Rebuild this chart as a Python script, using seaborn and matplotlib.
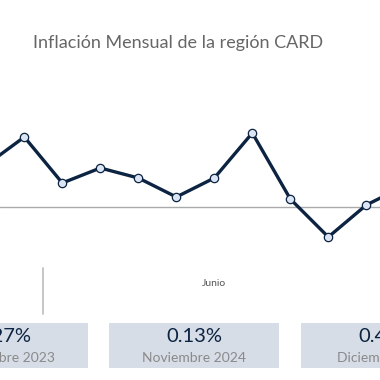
import matplotlib
matplotlib.use("Agg")
import matplotlib.pyplot as plt
import seaborn as sns
import pandas as pd
from matplotlib.patches import Rectangle

# monthly inflation (%), the view is a window of a longer series
months = ["Nov", "Dic", "Ene", "Feb", "Mar", "Abr", "Jun", "Jul", "Ago", "Sep", "Oct", "Nov2"]
inflation = [0.42, 0.70, 0.24, 0.39, 0.29, 0.10, 0.29, 0.74, 0.08, -0.30, 0.02, 0.21]
axis_label = "Junio"
axis_label_idx = 6

card_values = ["0.27%", "0.13%", "0.45%"]
card_labels = ["Noviembre 2023", "Noviembre 2024", "Diciembre 2024"]

title = "Inflación Mensual de la región CARD"

navy = "#0c2341"
marker_face = "#dbe5f3"
card_bg = "#d6dde6"

sns.set_theme(style="white")
plt.rcParams["font.family"] = ["Lato", "DejaVu Sans"]

fig = plt.figure(figsize=(3.8, 3.8), dpi=100)

# line chart, scaled so that only the window is visible
ax = fig.add_axes([0, 0, 1, 1])
df = pd.DataFrame({"idx": range(len(inflation)), "val": inflation})
ax.axhline(0, color="#aaaaaa", lw=1.0, zorder=1)
sns.lineplot(data=df, x="idx", y="val", ax=ax, color=navy, lw=2.4,
             marker="o", markersize=6, markerfacecolor=marker_face,
             markeredgecolor=navy, markeredgewidth=0.9, zorder=3)
ax.set_xlim(0.36, 10.36)
ax.set_ylim(-1.73, 2.07)
ax.axis("off")

# overlay in pixel space for the labels and cards
ov = fig.add_axes([0, 0, 1, 1], zorder=5)
ov.set_xlim(0, 380)
ov.set_ylim(380, 0)
ov.axis("off")
ov.patch.set_alpha(0)

ov.text(178, 43, title, ha="center", va="center", fontsize=13, color="#666666")

# month label and year separator, placed via the data axis
ax.text(axis_label_idx, -0.77, axis_label, ha="center", va="center",
        fontsize=7.5, color="#555555")
ax.plot([1.5, 1.5], [-0.61, -1.07], color="#bbbbbb", lw=1.2)

card_centers = [3, 194, 386]
for cx, v, lab in zip(card_centers, card_values, card_labels):
    ov.add_patch(Rectangle((cx - 85, 323), 170, 45, facecolor=card_bg, edgecolor="none"))
    ov.text(cx, 337, v, ha="center", va="center", fontsize=14.5, color=navy)
    ov.text(cx, 358, lab, ha="center", va="center", fontsize=10, color="#8a8a8a")

fig.savefig("out.png", dpi=100)
